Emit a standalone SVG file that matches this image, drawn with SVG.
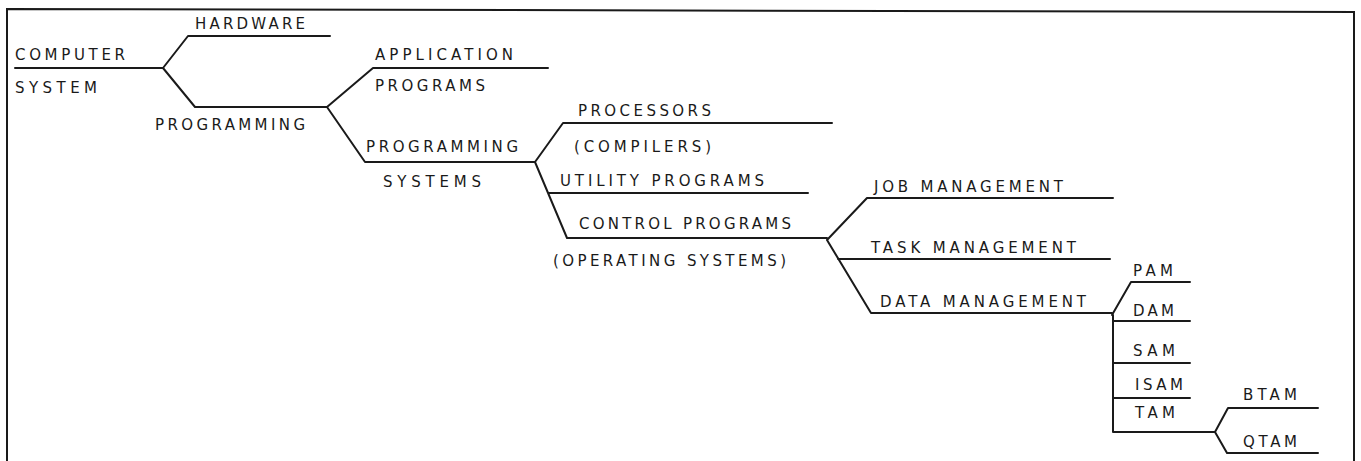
<svg xmlns="http://www.w3.org/2000/svg" width="1361" height="461" viewBox="0 0 1361 461">
  <style>
    .ln { fill: none; stroke: #1a1a1a; stroke-width: 2; stroke-linejoin: round; stroke-linecap: round; }
    .frame { fill: none; stroke: #1a1a1a; stroke-width: 2; }
    text { font-family: "DejaVu Sans", "Liberation Sans", sans-serif; font-size: 15px; fill: #1a1a1a; }
  </style>
  <rect width="1361" height="461" fill="#ffffff"/>

  <!-- open-bottom frame -->
  <polyline class="frame" points="7,461 7,9 1354,12 1354,461"/>

  <!-- tree connectors -->
  <g id="connectors">
    <!-- computer system split -->
    <path class="ln" d="M15,68 H163 L188,36 H330 M163,68 L195,107 H327"/>
    <!-- programming split -->
    <path class="ln" d="M327,107 L373,68 H548 M327,107 L365,162 H535"/>
    <!-- programming systems split -->
    <path class="ln" d="M535,162 L563,123 H832 M535,162 L567,238 H827 M548,193 H808"/>
    <!-- control programs split -->
    <path class="ln" d="M827,240 L867,198 H1113 M827,240 L871,313 H1112 M838,259 H1110"/>
    <!-- data management split -->
    <path class="ln" d="M1112,315 L1131,282 H1190 M1113,315 V432 H1215 M1113,321 H1190 M1113,363 H1190 M1113,398 H1190"/>
    <!-- tam split -->
    <path class="ln" d="M1215,432 L1228,408 H1318 M1215,432 L1227,453 H1318"/>
  </g>

  <g id="computer-system">
    <text x="15" y="60" textLength="110" lengthAdjust="spacing">COMPUTER</text>
    <text x="15" y="93" textLength="82" lengthAdjust="spacing">SYSTEM</text>
  </g>
  <g id="hardware">
    <text x="195" y="29" textLength="110" lengthAdjust="spacing">HARDWARE</text>
  </g>
  <g id="programming">
    <text x="155" y="130" textLength="150" lengthAdjust="spacing">PROGRAMMING</text>
  </g>
  <g id="application-programs">
    <text x="375" y="60" textLength="138" lengthAdjust="spacing">APPLICATION</text>
    <text x="375" y="91" textLength="110" lengthAdjust="spacing">PROGRAMS</text>
  </g>
  <g id="programming-systems">
    <text x="366" y="152" textLength="152" lengthAdjust="spacing">PROGRAMMING</text>
    <text x="383" y="187" textLength="98" lengthAdjust="spacing">SYSTEMS</text>
  </g>
  <g id="processors">
    <text x="578" y="116" textLength="133" lengthAdjust="spacing">PROCESSORS</text>
    <text x="574" y="152" textLength="137" lengthAdjust="spacing">(COMPILERS)</text>
  </g>
  <g id="utility-programs">
    <text x="560" y="186" textLength="204" lengthAdjust="spacing">UTILITY PROGRAMS</text>
  </g>
  <g id="control-programs">
    <text x="579" y="229" textLength="212" lengthAdjust="spacing">CONTROL PROGRAMS</text>
    <text x="553" y="266" textLength="233" lengthAdjust="spacing">(OPERATING SYSTEMS)</text>
  </g>
  <g id="job-management">
    <text x="874" y="192" textLength="189" lengthAdjust="spacing">JOB MANAGEMENT</text>
  </g>
  <g id="task-management">
    <text x="871" y="253" textLength="205" lengthAdjust="spacing">TASK MANAGEMENT</text>
  </g>
  <g id="data-management">
    <text x="880" y="307" textLength="206" lengthAdjust="spacing">DATA MANAGEMENT</text>
  </g>
  <g id="pam">
    <text x="1133" y="276" textLength="40" lengthAdjust="spacing">PAM</text>
  </g>
  <g id="dam">
    <text x="1133" y="316" textLength="41" lengthAdjust="spacing">DAM</text>
  </g>
  <g id="sam">
    <text x="1133" y="356" textLength="42" lengthAdjust="spacing">SAM</text>
  </g>
  <g id="isam">
    <text x="1135" y="390" textLength="48" lengthAdjust="spacing">ISAM</text>
  </g>
  <g id="tam">
    <text x="1135" y="418" textLength="40" lengthAdjust="spacing">TAM</text>
  </g>
  <g id="btam">
    <text x="1243" y="400" textLength="54" lengthAdjust="spacing">BTAM</text>
  </g>
  <g id="qtam">
    <text x="1243" y="447" textLength="54" lengthAdjust="spacing">QTAM</text>
  </g>
</svg>
